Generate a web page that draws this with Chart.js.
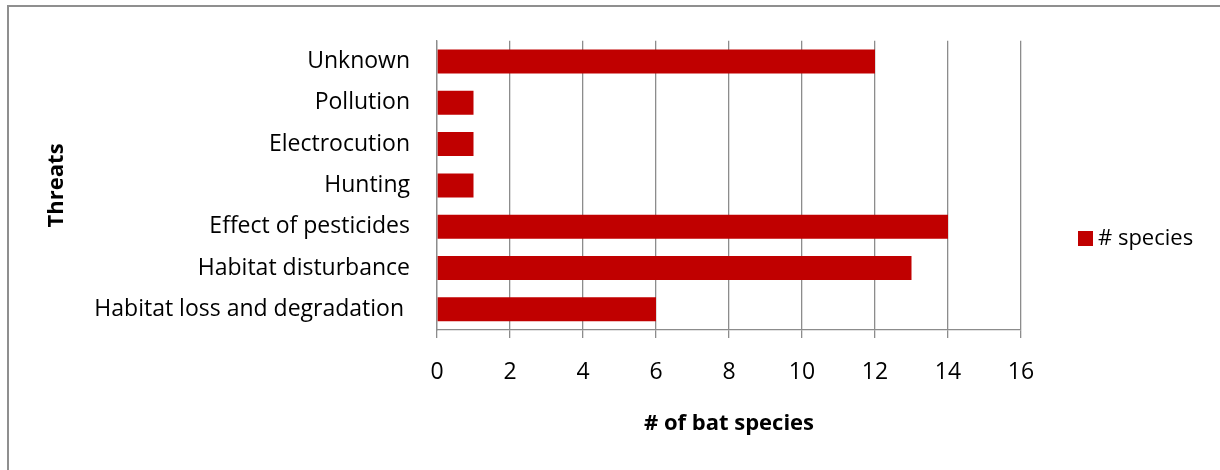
<!DOCTYPE html>
<html>
<head>
<meta charset="utf-8">
<script src="https://cdn.jsdelivr.net/npm/chart.js@4.4.1/dist/chart.umd.min.js"></script>
<style>
  html, body { margin: 0; padding: 0; background: #ffffff; }
  #wrap { position: relative; width: 1220px; height: 470px; }
  canvas { display: block; }
</style>
</head>
<body>
<div id="wrap"><canvas id="chart" width="1220" height="470"></canvas></div>
<script>
// Threats to bat species: number of species affected by each threat
const threats = [
  "Unknown",
  "Pollution",
  "Electrocution",
  "Hunting",
  "Effect of pesticides",
  "Habitat disturbance",
  "Habitat loss and degradation "
];
const speciesCounts = [12, 1, 1, 1, 14, 13, 6];
const seriesName = "# species";
const xTicks = [0, 2, 4, 6, 8, 10, 12, 14, 16];

const barColor = "#C00000";
const gridColor = "#8c8c8c";
const fontFamily = "'Open Sans', Lato, sans-serif";

// Frame along the top and left edges of the figure
const framePlugin = {
  id: "frame",
  beforeDraw(chart) {
    const ctx = chart.ctx;
    ctx.save();
    ctx.fillStyle = "#ffffff";
    ctx.fillRect(0, 0, chart.width, chart.height);
    ctx.strokeStyle = "#8f8f8f";
    ctx.lineWidth = 2;
    ctx.beginPath();
    ctx.moveTo(8, chart.height + 2);
    ctx.lineTo(8, 6);
    ctx.lineTo(chart.width + 2, 6);
    ctx.stroke();
    ctx.restore();
  }
};

// Legend to the right of the plot, built from the dataset
const sideLegendPlugin = {
  id: "sideLegend",
  afterDraw(chart) {
    const ctx = chart.ctx;
    ctx.save();
    chart.data.datasets.forEach((ds, i) => {
      const y = 239 + i * 28;
      ctx.fillStyle = ds.backgroundColor;
      ctx.fillRect(1078, y - 8, 15, 15);
      ctx.fillStyle = "#000000";
      ctx.font = "22px " + fontFamily;
      ctx.textBaseline = "middle";
      ctx.textAlign = "left";
      ctx.fillText(ds.label, 1098, y);
    });
    ctx.restore();
  }
};

new Chart(document.getElementById("chart"), {
  type: "bar",
  data: {
    labels: threats,
    datasets: [{
      label: seriesName,
      data: speciesCounts,
      backgroundColor: barColor,
      borderWidth: 0,
      barPercentage: 0.58,
      categoryPercentage: 1.0
    }]
  },
  options: {
    indexAxis: "y",
    responsive: false,
    animation: false,
    devicePixelRatio: 1,
    layout: { padding: { top: 35, right: 199, left: 0, bottom: 0 } },
    plugins: {
      legend: { display: false },
      tooltip: { enabled: false }
    },
    scales: {
      x: {
        min: xTicks[0],
        max: xTicks[xTicks.length - 1],
        afterBuildTicks(scale) {
          scale.ticks = xTicks.map(v => ({ value: v }));
        },
        afterFit(scale) { scale.height = 140; },
        grid: {
          color: gridColor,
          lineWidth: 1.3,
          drawTicks: true,
          tickLength: 8
        },
        border: { display: true, color: gridColor, width: 1.3 },
        ticks: {
          color: "#000000",
          font: { family: fontFamily, size: 23 },
          padding: 21,
          maxRotation: 0
        },
        title: {
          display: true,
          text: "# of bat species",
          color: "#000000",
          font: { family: fontFamily, size: 22, weight: "bold" },
          padding: { top: 0, bottom: 33 }
        }
      },
      y: {
        afterFit(scale) { scale.width = 437; },
        grid: {
          display: true,
          drawOnChartArea: false,
          drawTicks: false
        },
        border: { display: true, color: gridColor, width: 1.3 },
        ticks: {
          color: "#000000",
          font: { family: fontFamily, size: 23 },
          padding: 27,
          autoSkip: false
        },
        title: {
          display: true,
          text: "Threats",
          color: "#000000",
          font: { family: fontFamily, size: 22, weight: "bold" },
          padding: { top: 44, bottom: 0 }
        }
      }
    }
  },
  plugins: [framePlugin, sideLegendPlugin]
});
</script>
</body>
</html>
